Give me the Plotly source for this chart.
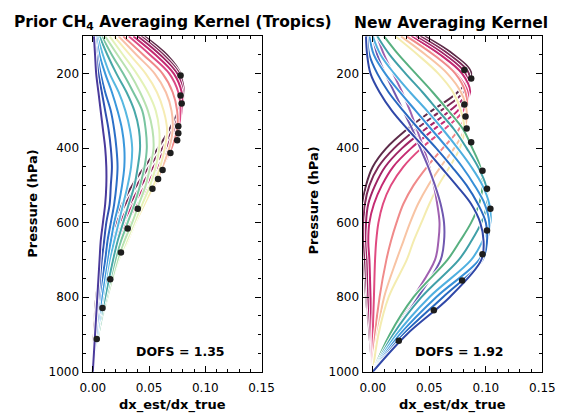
import plotly.graph_objects as go

# Pressure levels (hPa) at which each kernel row was read
pressure = [100, 150, 200, 250, 300, 350, 400, 450, 500, 550, 600, 650, 700, 800, 900, 1000]

# Prior CH4 averaging kernel rows (dx_est/dx_true), upper -> lower
prior_rows = [
    [0.046, 0.066, 0.078, 0.080, 0.076, 0.068, 0.058, 0.046, 0.035, 0.026, 0.018, 0.012, 0.008, 0.003, 0.001, 0.0],
    [0.043, 0.063, 0.077, 0.081, 0.078, 0.071, 0.062, 0.050, 0.039, 0.029, 0.021, 0.014, 0.009, 0.004, 0.001, 0.0],
    [0.040, 0.060, 0.075, 0.080, 0.079, 0.073, 0.065, 0.054, 0.043, 0.033, 0.024, 0.017, 0.011, 0.005, 0.002, 0.0],
    [0.036, 0.056, 0.072, 0.079, 0.079, 0.075, 0.068, 0.058, 0.047, 0.036, 0.027, 0.020, 0.013, 0.006, 0.002, 0.0],
    [0.032, 0.051, 0.068, 0.076, 0.078, 0.076, 0.070, 0.061, 0.051, 0.040, 0.030, 0.022, 0.015, 0.007, 0.002, 0.0],
    [0.027, 0.045, 0.062, 0.071, 0.075, 0.075, 0.070, 0.062, 0.054, 0.044, 0.034, 0.026, 0.018, 0.009, 0.003, 0.0],
    [0.023, 0.039, 0.055, 0.065, 0.070, 0.071, 0.068, 0.062, 0.055, 0.046, 0.037, 0.029, 0.021, 0.011, 0.004, 0.0],
    [0.019, 0.033, 0.047, 0.057, 0.063, 0.066, 0.064, 0.060, 0.054, 0.046, 0.038, 0.031, 0.023, 0.012, 0.004, 0.0],
    [0.015, 0.027, 0.039, 0.049, 0.056, 0.059, 0.059, 0.056, 0.051, 0.044, 0.037, 0.030, 0.023, 0.013, 0.005, 0.0],
    [0.011, 0.022, 0.033, 0.042, 0.049, 0.053, 0.054, 0.051, 0.047, 0.041, 0.035, 0.028, 0.022, 0.013, 0.005, 0.0],
    [0.008, 0.017, 0.027, 0.036, 0.044, 0.047, 0.048, 0.046, 0.042, 0.037, 0.031, 0.025, 0.020, 0.012, 0.005, 0.0],
    [0.006, 0.013, 0.021, 0.030, 0.037, 0.041, 0.042, 0.040, 0.037, 0.032, 0.027, 0.022, 0.018, 0.011, 0.004, 0.0],
    [0.004, 0.009, 0.015, 0.023, 0.029, 0.033, 0.035, 0.034, 0.031, 0.027, 0.023, 0.019, 0.015, 0.009, 0.004, 0.0],
    [0.003, 0.006, 0.011, 0.017, 0.022, 0.026, 0.028, 0.028, 0.026, 0.023, 0.019, 0.016, 0.013, 0.008, 0.003, 0.0],
    [0.002, 0.004, 0.007, 0.011, 0.016, 0.019, 0.021, 0.022, 0.021, 0.019, 0.016, 0.013, 0.011, 0.006, 0.003, 0.0],
    [0.001, 0.003, 0.005, 0.008, 0.011, 0.014, 0.016, 0.017, 0.016, 0.015, 0.012, 0.010, 0.008, 0.005, 0.002, 0.0],
    [0.001, 0.002, 0.003, 0.005, 0.007, 0.009, 0.011, 0.012, 0.012, 0.011, 0.009, 0.007, 0.006, 0.004, 0.002, 0.0],
]

# New averaging kernel rows, upper -> lower
new_rows = [
    [0.046, 0.072, 0.087, 0.075, 0.052, 0.030, 0.012, 0.000, -0.006, -0.009, -0.009, -0.009, -0.008, -0.006, -0.003, 0.0],
    [0.042, 0.068, 0.085, 0.080, 0.060, 0.038, 0.019, 0.005, -0.003, -0.007, -0.008, -0.008, -0.007, -0.005, -0.003, 0.0],
    [0.038, 0.064, 0.082, 0.084, 0.068, 0.046, 0.026, 0.011, 0.002, -0.004, -0.006, -0.006, -0.005, -0.004, -0.002, 0.0],
    [0.034, 0.060, 0.079, 0.086, 0.075, 0.054, 0.034, 0.018, 0.008, 0.001, -0.003, -0.004, -0.003, -0.002, -0.001, 0.0],
    [0.030, 0.055, 0.074, 0.084, 0.080, 0.063, 0.043, 0.027, 0.016, 0.009, 0.005, 0.003, 0.002, 0.001, 0.000, 0.0],
    [0.030, 0.054, 0.073, 0.082, 0.083, 0.076, 0.062, 0.048, 0.036, 0.027, 0.021, 0.016, 0.012, 0.006, 0.002, 0.0],
    [0.025, 0.047, 0.066, 0.078, 0.083, 0.081, 0.072, 0.060, 0.049, 0.040, 0.033, 0.027, 0.021, 0.010, 0.004, 0.0],
    [0.020, 0.040, 0.058, 0.071, 0.078, 0.081, 0.077, 0.068, 0.058, 0.050, 0.043, 0.036, 0.030, 0.014, 0.005, 0.0],
    [0.004, 0.010, 0.018, 0.026, 0.033, 0.039, 0.045, 0.050, 0.054, 0.057, 0.059, 0.058, 0.055, 0.036, 0.016, 0.0],
    [0.000, 0.004, 0.011, 0.019, 0.027, 0.035, 0.042, 0.049, 0.055, 0.060, 0.063, 0.063, 0.060, 0.040, 0.018, 0.0],
    [0.010, 0.023, 0.038, 0.053, 0.067, 0.080, 0.088, 0.095, 0.097, 0.094, 0.087, 0.077, 0.066, 0.036, 0.015, 0.0],
    [0.004, 0.015, 0.029, 0.044, 0.058, 0.072, 0.083, 0.093, 0.100, 0.101, 0.096, 0.087, 0.076, 0.043, 0.018, 0.0],
    [0.000, 0.007, 0.019, 0.033, 0.048, 0.062, 0.075, 0.087, 0.097, 0.103, 0.104, 0.097, 0.087, 0.050, 0.021, 0.0],
    [-0.003, 0.001, 0.011, 0.024, 0.038, 0.052, 0.066, 0.079, 0.090, 0.099, 0.103, 0.101, 0.094, 0.056, 0.024, 0.0],
    [-0.005, -0.003, 0.004, 0.014, 0.027, 0.041, 0.056, 0.070, 0.083, 0.093, 0.100, 0.101, 0.097, 0.062, 0.027, 0.0],
    [-0.006, -0.005, -0.002, 0.006, 0.017, 0.031, 0.046, 0.060, 0.074, 0.087, 0.095, 0.098, 0.096, 0.068, 0.030, 0.0],
]

prior_colors = ["#5e2c4a", "#7e2a58", "#a02466", "#c42a72", "#dc4a86", "#f08a8a", "#f8c0a8",
                "#f6ecb4", "#e4f2b8", "#b8e2b0", "#78c4a0", "#48a8a8", "#58b8e0", "#3a98dc",
                "#2c70c8", "#3050b0", "#4a3a9c"]
new_colors = ["#5e2c4a", "#7e2a58", "#a02466", "#c42a72", "#e04a80", "#f08a8a", "#f8c4a4",
              "#f4ecb0", "#a060b0", "#7058b0", "#58b080", "#40a0a8", "#50b0e0", "#3890d8",
              "#2868c0", "#3048a8"]

# Diagonal markers (dx_est/dx_true, hPa)
prior_diag_x = [0.078, 0.078, 0.079, 0.076, 0.076, 0.075, 0.069, 0.062, 0.058, 0.053, 0.040, 0.031, 0.025, 0.0155, 0.0086, 0.0035]
prior_diag_p = [205, 259, 280, 341, 360, 379, 413, 459, 483, 509, 563, 616, 680, 752, 829, 912]
new_diag_x = [0.081, 0.087, 0.081, 0.082, 0.083, 0.087, 0.097, 0.101, 0.104, 0.101, 0.097, 0.079, 0.054, 0.023]
new_diag_p = [190, 213, 283, 315, 347, 384, 461, 509, 563, 621, 685, 755, 835, 917]

x_ticks = [0.0, 0.05, 0.10, 0.15]
x_ticklabels = ["0.00", "0.05", "0.10", "0.15"]
y_ticks = [200, 400, 600, 800, 1000]

fig = go.Figure()

def add_panel(rows, colors, dx, dp, xa, ya):
    for row, col in zip(rows, colors):
        fig.add_trace(go.Scatter(x=row, y=pressure, mode="lines", xaxis=xa, yaxis=ya,
                                 line=dict(color="white", width=3.8, shape="spline"),
                                 hoverinfo="skip", showlegend=False))
        fig.add_trace(go.Scatter(x=row, y=pressure, mode="lines", xaxis=xa, yaxis=ya,
                                 line=dict(color=col, width=2.0, shape="spline"),
                                 showlegend=False))
    fig.add_trace(go.Scatter(x=dx, y=dp, mode="markers", xaxis=xa, yaxis=ya,
                             marker=dict(color="#1e1e1e", size=6.5), showlegend=False))

add_panel(prior_rows, prior_colors, prior_diag_x, prior_diag_p, "x", "y")
add_panel(new_rows, new_colors, new_diag_x, new_diag_p, "x2", "y2")

FONT = "DejaVu Sans"
tickfont = dict(family=FONT, size=12, color="black")

def xaxis(domain, anchor):
    return dict(domain=domain, anchor=anchor, range=[-0.009, 0.15], tickvals=x_ticks,
                ticktext=x_ticklabels, ticks="inside", ticklen=6, tickwidth=1.2,
                tickcolor="black", showline=True, linecolor="black", linewidth=1.3,
                mirror="ticks", showgrid=False, zeroline=False, tickfont=tickfont,
                ticklabelstandoff=5,
                minor=dict(dtick=0.01, ticks="inside", ticklen=3, tickcolor="black", showgrid=False))

def yaxis(anchor):
    return dict(domain=[0.1, 0.912], anchor=anchor, range=[1000, 100], tickvals=y_ticks,
                ticks="inside", ticklen=6, tickwidth=1.2, tickcolor="black", showline=True,
                linecolor="black", linewidth=1.3, mirror="ticks", showgrid=False,
                zeroline=False, tickfont=tickfont,
                minor=dict(dtick=50, tick0=100, ticks="inside", ticklen=3, tickcolor="black", showgrid=False))

fig.update_layout(
    width=569, height=420, margin=dict(l=0, r=0, t=0, b=0),
    paper_bgcolor="white", plot_bgcolor="white",
    xaxis=xaxis([0.1441, 0.4675], "y"), yaxis=yaxis("x"),
    xaxis2=xaxis([0.6503, 0.9754], "y2"), yaxis2=yaxis("x2"),
    font=dict(family=FONT, color="black"),
)

def note(text, x, y, size, angle=0):
    fig.add_annotation(text=text, x=x, y=y, xref="paper", yref="paper", showarrow=False,
                       xanchor="center", yanchor="middle", textangle=angle,
                       font=dict(family=FONT, size=size, color="black"))

note("<b>Prior CH<sub>4</sub> Averaging Kernel (Tropics)</b>", 0.3076, 1 - 23 / 420, 15.5)
note("<b>New Averaging Kernel</b>", 0.811, 1 - 23 / 420, 15.5)
note("<b>Pressure (hPa)</b>", 30 / 569, 1 - 207 / 420, 13, -90)
note("<b>Pressure (hPa)</b>", 320 / 569, 1 - 204 / 420, 13, -90)
note("<b>dx_est/dx_true</b>", 174 / 569, 1 - 411.5 / 420, 13)
note("<b>dx_est/dx_true</b>", 462 / 569, 1 - 411.5 / 420, 13)
note("<b>DOFS = 1.35</b>", 183 / 569, 1 - 357 / 420, 12.5)
note("<b>DOFS = 1.92</b>", 470 / 569, 1 - 357 / 420, 12.5)

fig.write_html("out.html")
